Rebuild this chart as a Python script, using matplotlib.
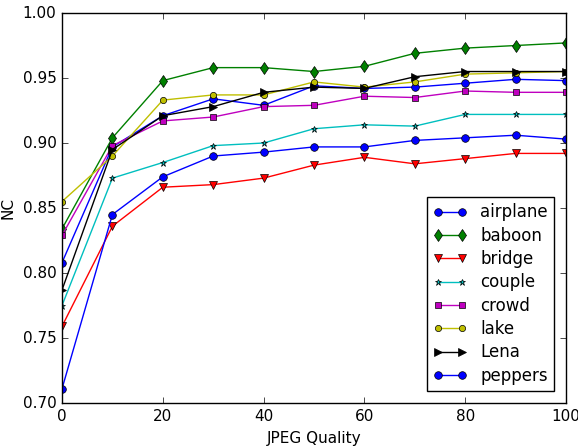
import matplotlib
matplotlib.use("Agg")
import matplotlib.pyplot as plt

plt.style.use('classic')

# JPEG quality levels
quality = [0, 10, 20, 30, 40, 50, 60, 70, 80, 90, 100]

# NC values
airplane = [0.808, 0.897, 0.921, 0.934, 0.929, 0.944, 0.942, 0.943, 0.946, 0.949, 0.948]
baboon = [0.834, 0.904, 0.948, 0.958, 0.958, 0.955, 0.959, 0.969, 0.973, 0.975, 0.977]
bridge = [0.759, 0.836, 0.866, 0.868, 0.873, 0.883, 0.889, 0.884, 0.888, 0.892, 0.892]
couple = [0.775, 0.873, 0.885, 0.898, 0.900, 0.911, 0.914, 0.913, 0.922, 0.922, 0.922]
crowd = [0.829, 0.898, 0.917, 0.920, 0.928, 0.929, 0.936, 0.935, 0.940, 0.939, 0.939]
lake = [0.855, 0.890, 0.933, 0.937, 0.937, 0.947, 0.943, 0.947, 0.953, 0.954, 0.955]
lena = [0.787, 0.895, 0.921, 0.928, 0.939, 0.943, 0.942, 0.951, 0.955, 0.955, 0.955]
peppers = [0.711, 0.845, 0.874, 0.890, 0.893, 0.897, 0.897, 0.902, 0.904, 0.906, 0.903]

names = ["airplane", "baboon", "bridge", "couple", "crowd", "lake", "Lena", "peppers"]

fig = plt.figure(figsize=(5.78, 4.46), dpi=100)
ax = fig.add_axes([0.1073, 0.0964, 0.872, 0.8744])

ax.plot(quality, airplane, 'bo-', markersize=5.5, label=names[0])
ax.plot(quality, baboon, 'gd-', markersize=6, label=names[1])
ax.plot(quality, bridge, 'rv-', markersize=6, label=names[2])
ax.plot(quality, couple, 'c*-', markersize=5, label=names[3])
ax.plot(quality, crowd, 'ms-', markersize=5, label=names[4])
ax.plot(quality, lake, 'yo-', markersize=4.5, label=names[5])
ax.plot(quality, lena, 'k>-', markersize=6, label=names[6])
ax.plot(quality, peppers, 'bo-', markersize=5.5, label=names[7])

ax.set_xlim(0, 100)
ax.set_ylim(0.70, 1.00)
ax.set_xlabel('JPEG Quality', fontsize=11)
ax.set_ylabel('NC', fontsize=11)
ax.tick_params(labelsize=11)
ax.legend(loc='lower right', fontsize=12, numpoints=2, labelspacing=0.32,
          handlelength=2.0, borderaxespad=0.7)

fig.savefig("out.png", dpi=100)
